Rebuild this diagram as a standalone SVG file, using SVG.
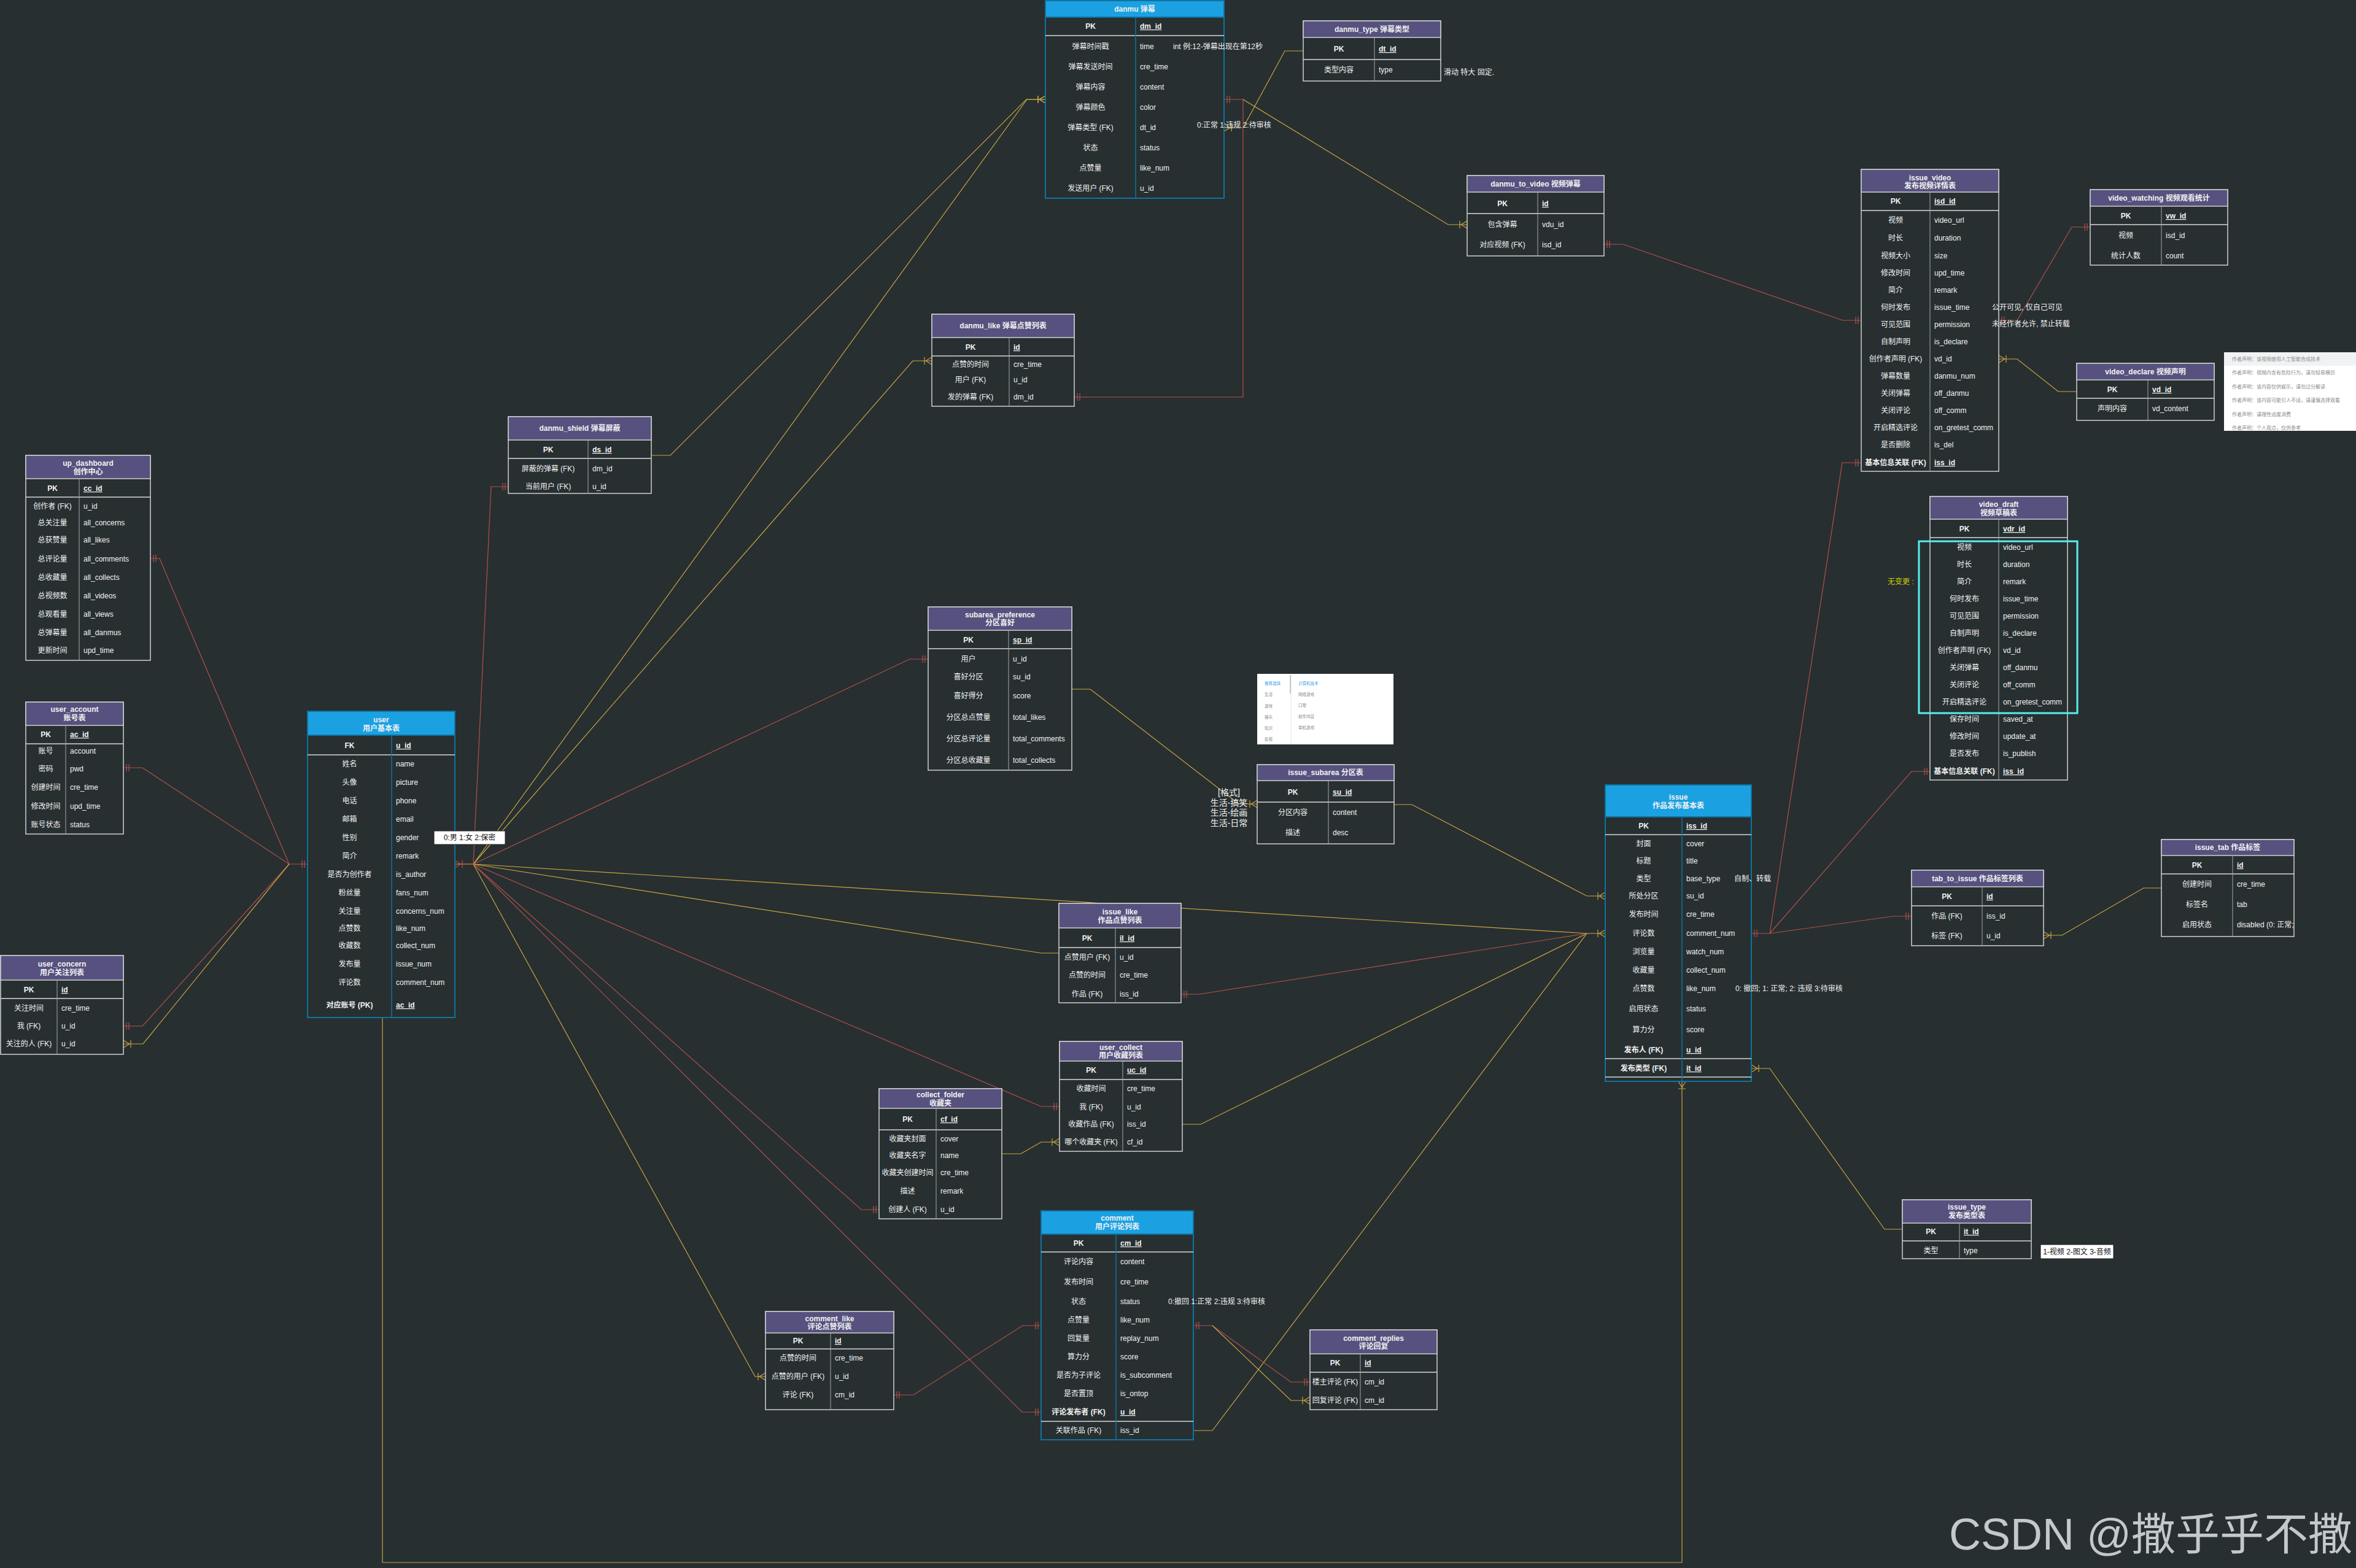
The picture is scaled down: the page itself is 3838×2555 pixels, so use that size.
<svg xmlns="http://www.w3.org/2000/svg" width="3838" height="2555" viewBox="0 0 3838 2555">
<style>
.bg{fill:#272f31}
.body{fill:#272f31;stroke:#cfcfcf;stroke-width:1.5}
.bodyb{fill:#272f31;stroke:#10739e;stroke-width:2}
.hp{fill:#56517e;stroke:#cfcfcf;stroke-width:1.5}
.hb{fill:#1ba1e2;stroke:#10739e;stroke-width:2}
.sep{stroke:#d8d8d8;stroke-width:1.5}
.cd{stroke:#a8a8a8;stroke-width:1}
.cdb{stroke:#10739e;stroke-width:1.5}
text{font-family:"Liberation Sans","Noto Sans CJK SC",sans-serif;font-size:12px;fill:#f2f2f2}
.c{text-anchor:middle}
.b{font-weight:bold}
.u{text-decoration:underline}
.h{font-weight:bold;text-anchor:middle}
.rl{fill:none;stroke:#b4504a;stroke-width:1.2}
.yl{fill:none;stroke:#c9a540;stroke-width:1.2}
.note{fill:#ffffff;stroke:#222;stroke-width:1}
.nt{fill:#111;text-anchor:middle}
.ann{fill:#f2f2f2}
.g8{font-size:8px;fill:#8a8a8a}
.s7{font-size:6.5px;fill:#8a8a8a}
.s7b{font-size:6.5px;fill:#3aa0e8}
</style>
<defs>
<marker id="r2" markerUnits="userSpaceOnUse" orient="auto-start-reverse" markerWidth="20" markerHeight="20" refX="0" refY="0" style="overflow:visible"><path d="M-5,-6V6M-9,-6V6" fill="none" stroke="#b4504a" stroke-width="1.2"/></marker>
<marker id="ym" markerUnits="userSpaceOnUse" orient="auto-start-reverse" markerWidth="20" markerHeight="20" refX="0" refY="0" style="overflow:visible"><path d="M0,-6L-10,0L0,6M-12,-6V6" fill="none" stroke="#c9a540" stroke-width="1.2"/></marker>
<marker id="rm" markerUnits="userSpaceOnUse" orient="auto-start-reverse" markerWidth="20" markerHeight="20" refX="0" refY="0" style="overflow:visible"><path d="M0,-6L-10,0L0,6M-12,-6V6" fill="none" stroke="#b4504a" stroke-width="1.2"/></marker>
</defs>
<rect class="bg" x="0" y="0" width="3838" height="2555"/>

<g id="connectors">
<path class="yl" d="M2123,83H2093L2025,208H1994" marker-end="url(#ym)"/>
<path class="rl" d="M1994,162H2025V647H1750" marker-start="url(#r2)" marker-end="url(#r2)"/>
<path class="yl" d="M2025,162L2359,366H2390" marker-end="url(#ym)"/>
<path class="yl" d="M1061,742H1092L1672,162H1703" marker-end="url(#ym)"/>
<path class="yl" d="M741,1408H771L1673,162H1703" marker-end="url(#ym)"/>
<path class="yl" d="M771,1408L1487,588H1518" marker-end="url(#ym)"/>
<path class="rl" d="M771,1408L800,793H828" marker-end="url(#r2)"/>
<path class="rl" d="M771,1408L1482,1074H1512" marker-end="url(#r2)"/>
<path class="yl" d="M771,1408L1696,1553H1725"/>
<path class="rl" d="M771,1408L1696,1803H1726" marker-end="url(#r2)"/>
<path class="yl" d="M771,1408L2585,1521H2615" marker-end="url(#ym)"/>
<path class="rl" d="M771,1408L1665,2301H1696" marker-end="url(#r2)"/>
<path class="rl" d="M771,1408L1403,1971H1432" marker-end="url(#r2)"/>
<path class="yl" d="M771,1408L1230,2243H1247" marker-end="url(#ym)"/>
<path class="rl" d="M771,1408H741" marker-end="url(#rm)"/>
<path class="rl" d="M201,1251H232L471,1408H501" marker-start="url(#r2)" marker-end="url(#r2)"/>
<path class="rl" d="M245,910H260L471,1408" marker-start="url(#r2)"/>
<path class="rl" d="M201,1672H232L471,1408" marker-start="url(#r2)"/>
<path class="yl" d="M201,1701H233L471,1408" marker-start="url(#ym)"/>
<path class="yl" d="M623,1658V2546H2740V1762" marker-end="url(#ym)"/>
<path class="rl" d="M2613,398H2644L3002,522H3032" marker-start="url(#r2)" marker-end="url(#r2)"/>
<path class="rl" d="M3256,522H3286L3375,370H3405" marker-start="url(#r2)" marker-end="url(#r2)"/>
<path class="yl" d="M3256,585H3286L3353,638H3383" marker-start="url(#ym)"/>
<path class="rl" d="M2853,1521H2883L3001,754H3032" marker-start="url(#r2)" marker-end="url(#r2)"/>
<path class="rl" d="M2883,1521L3114,1257H3144" marker-end="url(#r2)"/>
<path class="rl" d="M2883,1521L3084,1493H3114" marker-end="url(#r2)"/>
<path class="yl" d="M2853,1741H2883L3070,2003H3099" marker-start="url(#ym)"/>
<path class="yl" d="M3521,1447H3492L3359,1524H3329" marker-end="url(#ym)"/>
<path class="yl" d="M2271,1311H2300L2585,1460H2615" marker-end="url(#ym)"/>
<path class="yl" d="M1746,1123H1776L2018,1310H2048" marker-end="url(#ym)"/>
<path class="rl" d="M1924,1620H1954L2585,1521" marker-start="url(#r2)"/>
<path class="yl" d="M1926,1832H1956L2585,1521"/>
<path class="yl" d="M1944,2331H1975L2585,1521"/>
<path class="yl" d="M1632,1880H1663L1696,1861H1726" marker-end="url(#ym)"/>
<path class="rl" d="M1696,2160H1666L1488,2273H1456" marker-start="url(#r2)" marker-end="url(#r2)"/>
<path class="rl" d="M1944,2160H1975L2103,2252H2134" marker-start="url(#r2)" marker-end="url(#r2)"/>
<path class="yl" d="M1975,2160L2103,2282H2134" marker-end="url(#ym)"/>
</g>

<g id="danmu">
<rect class="bodyb" x="1703" y="1" width="291" height="322"/>
<rect class="hb" x="1703" y="1" width="291" height="27"/>
<line class="sep" x1="1703" y1="58" x2="1994" y2="58"/>
<line class="cdb" x1="1850" y1="28" x2="1850" y2="323"/>
<text class="h" x="1848.5" y="19">danmu 弹幕</text>
<text class="c b" x="1776.5" y="47">PK</text><text class="b u" x="1857" y="47">dm_id</text>
<text class="c" x="1776.5" y="80">弹幕时间戳</text><text x="1857" y="80">time</text>
<text class="c" x="1776.5" y="113">弹幕发送时间</text><text x="1857" y="113">cre_time</text>
<text class="c" x="1776.5" y="146">弹幕内容</text><text x="1857" y="146">content</text>
<text class="c" x="1776.5" y="179">弹幕颜色</text><text x="1857" y="179">color</text>
<text class="c" x="1776.5" y="212">弹幕类型 (FK)</text><text x="1857" y="212">dt_id</text>
<text class="c" x="1776.5" y="245">状态</text><text x="1857" y="245">status</text>
<text class="c" x="1776.5" y="278">点赞量</text><text x="1857" y="278">like_num</text>
<text class="c" x="1776.5" y="311">发送用户 (FK)</text><text x="1857" y="311">u_id</text>
<text class="ann" x="1911" y="80">int 例:12-弹幕出现在第12秒</text>
<text class="ann" x="1950" y="208">0:正常 1:违规 2:待审核</text>
</g>

<g id="danmu_type">
<rect class="body" x="2123" y="34" width="224" height="98"/>
<rect class="hp" x="2123" y="34" width="224" height="27"/>
<line class="sep" x1="2123" y1="97" x2="2347" y2="97"/>
<line class="cd" x1="2239" y1="61" x2="2239" y2="132"/>
<text class="h" x="2235" y="52">danmu_type 弹幕类型</text>
<text class="c b" x="2181" y="84">PK</text><text class="b u" x="2246" y="84">dt_id</text>
<text class="c" x="2181" y="118">类型内容</text><text x="2246" y="118">type</text>
<text class="ann" x="2352" y="122">滑动 特大 固定.</text>
</g>

<g id="danmu_to_video">
<rect class="body" x="2390" y="286" width="223" height="131"/>
<rect class="hp" x="2390" y="286" width="223" height="27"/>
<line class="sep" x1="2390" y1="348" x2="2613" y2="348"/>
<line class="cd" x1="2505" y1="313" x2="2505" y2="417"/>
<text class="h" x="2501.5" y="304">danmu_to_video 视频弹幕</text>
<text class="c b" x="2447.5" y="336">PK</text><text class="b u" x="2512" y="336">id</text>
<text class="c" x="2447.5" y="370">包含弹幕</text><text x="2512" y="370">vdu_id</text>
<text class="c" x="2447.5" y="403">对应视频 (FK)</text><text x="2512" y="403">isd_id</text>
</g>

<g id="issue_video">
<rect class="body" x="3032" y="276" width="224" height="492"/>
<rect class="hp" x="3032" y="276" width="224" height="37"/>
<line class="sep" x1="3032" y1="343" x2="3256" y2="343"/>
<line class="cd" x1="3144" y1="313" x2="3144" y2="768"/>
<text class="h" x="3144" y="293.5">issue_video</text>
<text class="h" x="3144" y="307">发布视频详情表</text>
<text class="c b" x="3088" y="332">PK</text><text class="b u" x="3151" y="332">isd_id</text>
<text class="c" x="3088" y="363">视频</text><text x="3151" y="363">video_url</text>
<text class="c" x="3088" y="392">时长</text><text x="3151" y="392">duration</text>
<text class="c" x="3088" y="421">视频大小</text><text x="3151" y="421">size</text>
<text class="c" x="3088" y="449">修改时间</text><text x="3151" y="449">upd_time</text>
<text class="c" x="3088" y="477">简介</text><text x="3151" y="477">remark</text>
<text class="c" x="3088" y="505">何时发布</text><text x="3151" y="505">issue_time</text>
<text class="c" x="3088" y="533">可见范围</text><text x="3151" y="533">permission</text>
<text class="c" x="3088" y="561">自制声明</text><text x="3151" y="561">is_declare</text>
<text class="c" x="3088" y="589">创作者声明 (FK)</text><text x="3151" y="589">vd_id</text>
<text class="c" x="3088" y="617">弹幕数量</text><text x="3151" y="617">danmu_num</text>
<text class="c" x="3088" y="645">关闭弹幕</text><text x="3151" y="645">off_danmu</text>
<text class="c" x="3088" y="673">关闭评论</text><text x="3151" y="673">off_comm</text>
<text class="c" x="3088" y="701">开启精选评论</text><text x="3151" y="701">on_gretest_comm</text>
<text class="c" x="3088" y="729">是否删除</text><text x="3151" y="729">is_del</text>
<text class="c b" x="3088" y="758">基本信息关联 (FK)</text><text class="b u" x="3151" y="758">iss_id</text>
<text class="ann" x="3245" y="505">公开可见, 仅自己可见</text>
<text class="ann" x="3245" y="532">未经作者允许, 禁止转载</text>
</g>

<g id="video_watching">
<rect class="body" x="3405" y="309" width="224" height="123"/>
<rect class="hp" x="3405" y="309" width="224" height="27"/>
<line class="sep" x1="3405" y1="366" x2="3629" y2="366"/>
<line class="cd" x1="3521" y1="336" x2="3521" y2="432"/>
<text class="h" x="3517" y="327">video_watching 视频观看统计</text>
<text class="c b" x="3463" y="356">PK</text><text class="b u" x="3528" y="356">vw_id</text>
<text class="c" x="3463" y="388">视频</text><text x="3528" y="388">isd_id</text>
<text class="c" x="3463" y="421">统计人数</text><text x="3528" y="421">count</text>
</g>

<g id="video_declare">
<rect class="body" x="3383" y="592" width="224" height="93"/>
<rect class="hp" x="3383" y="592" width="224" height="27"/>
<line class="sep" x1="3383" y1="649" x2="3607" y2="649"/>
<line class="cd" x1="3499" y1="619" x2="3499" y2="685"/>
<text class="h" x="3495" y="610">video_declare 视频声明</text>
<text class="c b" x="3441" y="639">PK</text><text class="b u" x="3506" y="639">vd_id</text>
<text class="c" x="3441" y="670">声明内容</text><text x="3506" y="670">vd_content</text>
</g>

<g id="declare_screenshot">
<rect x="3623" y="574" width="215" height="128" fill="#ffffff"/>
<rect x="3623" y="574" width="215" height="22" fill="#f1f2f3"/>
<text class="g8" x="3636" y="588">作者声明：该视频使用人工智能合成技术</text>
<text class="g8" x="3636" y="610">作者声明：视频内含有危险行为，请勿轻易模仿</text>
<text class="g8" x="3636" y="633">作者声明：该内容仅供娱乐，请勿过分解读</text>
<text class="g8" x="3636" y="655">作者声明：该内容可能引人不适，请谨慎选择观看</text>
<text class="g8" x="3636" y="678">作者声明：请理性适度消费</text>
<text class="g8" x="3636" y="700">作者声明：个人观点，仅供参考</text>
</g>

<g id="video_draft">
<rect class="body" x="3144" y="809" width="224" height="462"/>
<rect class="hp" x="3144" y="809" width="224" height="37"/>
<line class="sep" x1="3144" y1="876" x2="3368" y2="876"/>
<line class="cd" x1="3256" y1="846" x2="3256" y2="1271"/>
<text class="h" x="3256" y="826">video_draft</text>
<text class="h" x="3256" y="840">视频草稿表</text>
<text class="c b" x="3200" y="866">PK</text><text class="b u" x="3263" y="866">vdr_id</text>
<text class="c" x="3200" y="896">视频</text><text x="3263" y="896">video_url</text>
<text class="c" x="3200" y="924">时长</text><text x="3263" y="924">duration</text>
<text class="c" x="3200" y="952">简介</text><text x="3263" y="952">remark</text>
<text class="c" x="3200" y="980">何时发布</text><text x="3263" y="980">issue_time</text>
<text class="c" x="3200" y="1008">可见范围</text><text x="3263" y="1008">permission</text>
<text class="c" x="3200" y="1036">自制声明</text><text x="3263" y="1036">is_declare</text>
<text class="c" x="3200" y="1064">创作者声明 (FK)</text><text x="3263" y="1064">vd_id</text>
<text class="c" x="3200" y="1092">关闭弹幕</text><text x="3263" y="1092">off_danmu</text>
<text class="c" x="3200" y="1120">关闭评论</text><text x="3263" y="1120">off_comm</text>
<text class="c" x="3200" y="1148">开启精选评论</text><text x="3263" y="1148">on_gretest_comm</text>
<text class="c" x="3200" y="1176">保存时间</text><text x="3263" y="1176">saved_at</text>
<text class="c" x="3200" y="1204">修改时间</text><text x="3263" y="1204">update_at</text>
<text class="c" x="3200" y="1232">是否发布</text><text x="3263" y="1232">is_publish</text>
<text class="c b" x="3200" y="1261">基本信息关联 (FK)</text><text class="b u" x="3263" y="1261">iss_id</text>
<rect x="3126" y="882" width="258" height="280" fill="none" stroke="#55f0f0" stroke-width="3"/>
<text x="3075" y="952" style="fill:#cccc00">无变更 :</text>
</g>

<g id="danmu_like">
<rect class="body" x="1518" y="512" width="232" height="150"/>
<rect class="hp" x="1518" y="512" width="232" height="38"/>
<line class="sep" x1="1518" y1="580" x2="1750" y2="580"/>
<line class="cd" x1="1644" y1="550" x2="1644" y2="662"/>
<text class="h" x="1634" y="535">danmu_like 弹幕点赞列表</text>
<text class="c b" x="1581" y="570">PK</text><text class="b u" x="1651" y="570">id</text>
<text class="c" x="1581" y="598">点赞的时间</text><text x="1651" y="598">cre_time</text>
<text class="c" x="1581" y="623">用户 (FK)</text><text x="1651" y="623">u_id</text>
<text class="c" x="1581" y="651">发的弹幕 (FK)</text><text x="1651" y="651">dm_id</text>
</g>

<g id="danmu_shield">
<rect class="body" x="828" y="679" width="233" height="125"/>
<rect class="hp" x="828" y="679" width="233" height="38"/>
<line class="sep" x1="828" y1="747" x2="1061" y2="747"/>
<line class="cd" x1="958" y1="717" x2="958" y2="804"/>
<text class="h" x="944.5" y="702">danmu_shield 弹幕屏蔽</text>
<text class="c b" x="893" y="737">PK</text><text class="b u" x="965" y="737">ds_id</text>
<text class="c" x="893" y="768">屏蔽的弹幕 (FK)</text><text x="965" y="768">dm_id</text>
<text class="c" x="893" y="797">当前用户 (FK)</text><text x="965" y="797">u_id</text>
</g>

<g id="up_dashboard">
<rect class="body" x="42" y="742" width="203" height="334"/>
<rect class="hp" x="42" y="742" width="203" height="38"/>
<line class="sep" x1="42" y1="810" x2="245" y2="810"/>
<line class="cd" x1="129" y1="780" x2="129" y2="1076"/>
<text class="h" x="143.5" y="758.5">up_dashboard</text>
<text class="h" x="143.5" y="772.5">创作中心</text>
<text class="c b" x="85.5" y="800">PK</text><text class="b u" x="136" y="800">cc_id</text>
<text class="c" x="85.5" y="829">创作者 (FK)</text><text x="136" y="829">u_id</text>
<text class="c" x="85.5" y="856">总关注量</text><text x="136" y="856">all_concerns</text>
<text class="c" x="85.5" y="884">总获赞量</text><text x="136" y="884">all_likes</text>
<text class="c" x="85.5" y="915">总评论量</text><text x="136" y="915">all_comments</text>
<text class="c" x="85.5" y="945">总收藏量</text><text x="136" y="945">all_collects</text>
<text class="c" x="85.5" y="975">总视频数</text><text x="136" y="975">all_videos</text>
<text class="c" x="85.5" y="1005">总观看量</text><text x="136" y="1005">all_views</text>
<text class="c" x="85.5" y="1035">总弹幕量</text><text x="136" y="1035">all_danmus</text>
<text class="c" x="85.5" y="1064">更新时间</text><text x="136" y="1064">upd_time</text>
</g>

<g id="user_account">
<rect class="body" x="42" y="1144" width="159" height="215"/>
<rect class="hp" x="42" y="1144" width="159" height="38"/>
<line class="sep" x1="42" y1="1212" x2="201" y2="1212"/>
<line class="cd" x1="107" y1="1182" x2="107" y2="1359"/>
<text class="h" x="121.5" y="1160">user_account</text>
<text class="h" x="121.5" y="1174">账号表</text>
<text class="c b" x="74.5" y="1201">PK</text><text class="b u" x="114" y="1201">ac_id</text>
<text class="c" x="74.5" y="1228">账号</text><text x="114" y="1228">account</text>
<text class="c" x="74.5" y="1257">密码</text><text x="114" y="1257">pwd</text>
<text class="c" x="74.5" y="1287">创建时间</text><text x="114" y="1287">cre_time</text>
<text class="c" x="74.5" y="1318">修改时间</text><text x="114" y="1318">upd_time</text>
<text class="c" x="74.5" y="1348">账号状态</text><text x="114" y="1348">status</text>
</g>

<g id="user_concern">
<rect class="body" x="1" y="1557" width="200" height="161"/>
<rect class="hp" x="1" y="1557" width="200" height="40"/>
<line class="sep" x1="1" y1="1627" x2="201" y2="1627"/>
<line class="cd" x1="93" y1="1597" x2="93" y2="1718"/>
<text class="h" x="101" y="1575">user_concern</text>
<text class="h" x="101" y="1588.5">用户关注列表</text>
<text class="c b" x="47" y="1617">PK</text><text class="b u" x="100" y="1617">id</text>
<text class="c" x="47" y="1647">关注时间</text><text x="100" y="1647">cre_time</text>
<text class="c" x="47" y="1676">我 (FK)</text><text x="100" y="1676">u_id</text>
<text class="c" x="47" y="1705">关注的人 (FK)</text><text x="100" y="1705">u_id</text>
</g>

<g id="user">
<rect class="bodyb" x="501" y="1159" width="240" height="499"/>
<rect class="hb" x="501" y="1159" width="240" height="39"/>
<line class="sep" x1="501" y1="1230" x2="741" y2="1230"/>
<line class="cdb" x1="638" y1="1198" x2="638" y2="1658"/>
<text class="h" x="621" y="1177">user</text>
<text class="h" x="621" y="1190.5">用户基本表</text>
<text class="c b" x="569.5" y="1219">FK</text><text class="b u" x="645" y="1219">u_id</text>
<text class="c" x="569.5" y="1249">姓名</text><text x="645" y="1249">name</text>
<text class="c" x="569.5" y="1279">头像</text><text x="645" y="1279">picture</text>
<text class="c" x="569.5" y="1309">电话</text><text x="645" y="1309">phone</text>
<text class="c" x="569.5" y="1339">邮箱</text><text x="645" y="1339">email</text>
<text class="c" x="569.5" y="1369">性别</text><text x="645" y="1369">gender</text>
<text class="c" x="569.5" y="1399">简介</text><text x="645" y="1399">remark</text>
<text class="c" x="569.5" y="1429">是否为创作者</text><text x="645" y="1429">is_author</text>
<text class="c" x="569.5" y="1459">粉丝量</text><text x="645" y="1459">fans_num</text>
<text class="c" x="569.5" y="1489">关注量</text><text x="645" y="1489">concerns_num</text>
<text class="c" x="569.5" y="1517">点赞数</text><text x="645" y="1517">like_num</text>
<text class="c" x="569.5" y="1545">收藏数</text><text x="645" y="1545">collect_num</text>
<text class="c" x="569.5" y="1575">发布量</text><text x="645" y="1575">issue_num</text>
<text class="c" x="569.5" y="1605">评论数</text><text x="645" y="1605">comment_num</text>
<text class="c b" x="569.5" y="1642">对应账号 (PK)</text><text class="b u" x="645" y="1642">ac_id</text>
<rect class="note" x="707" y="1354" width="116" height="22"/>
<text class="nt" x="765" y="1369">0:男 1:女 2:保密</text>
</g>

<g id="subarea_preference">
<rect class="body" x="1512" y="989" width="234" height="266"/>
<rect class="hp" x="1512" y="989" width="234" height="38"/>
<line class="sep" x1="1512" y1="1057" x2="1746" y2="1057"/>
<line class="cd" x1="1643" y1="1027" x2="1643" y2="1255"/>
<text class="h" x="1629" y="1006">subarea_preference</text>
<text class="h" x="1629" y="1019">分区喜好</text>
<text class="c b" x="1577.5" y="1047">PK</text><text class="b u" x="1650" y="1047">sp_id</text>
<text class="c" x="1577.5" y="1078">用户</text><text x="1650" y="1078">u_id</text>
<text class="c" x="1577.5" y="1107">喜好分区</text><text x="1650" y="1107">su_id</text>
<text class="c" x="1577.5" y="1138">喜好得分</text><text x="1650" y="1138">score</text>
<text class="c" x="1577.5" y="1173">分区总点赞量</text><text x="1650" y="1173">total_likes</text>
<text class="c" x="1577.5" y="1208">分区总评论量</text><text x="1650" y="1208">total_comments</text>
<text class="c" x="1577.5" y="1243">分区总收藏量</text><text x="1650" y="1243">total_collects</text>
</g>

<g id="subarea_screenshot">
<rect x="2048" y="1098" width="222" height="115" fill="#ffffff"/>
<line x1="2103" y1="1100" x2="2103" y2="1213" stroke="#e4e4e4" stroke-width="1"/>
<line x1="2102" y1="1100" x2="2102" y2="1130" stroke="#c8c8c8" stroke-width="2"/>
<text class="s7b" x="2060" y="1116">推荐选择</text>
<text class="s7" x="2060" y="1134">生活</text>
<text class="s7" x="2060" y="1153">游戏</text>
<text class="s7" x="2060" y="1171">娱乐</text>
<text class="s7" x="2060" y="1189">知识</text>
<text class="s7" x="2060" y="1207">影视</text>
<text class="s7b" x="2115" y="1116">计算机技术</text>
<text class="s7" x="2115" y="1134">网络游戏</text>
<text class="s7" x="2115" y="1152">口琴</text>
<text class="s7" x="2115" y="1170">软件内容</text>
<text class="s7" x="2115" y="1188">单机游戏</text>
</g>

<g id="issue_subarea">
<rect class="body" x="2048" y="1246" width="223" height="129"/>
<rect class="hp" x="2048" y="1246" width="223" height="26"/>
<line class="sep" x1="2048" y1="1307" x2="2271" y2="1307"/>
<line class="cd" x1="2164" y1="1272" x2="2164" y2="1375"/>
<text class="h" x="2159.5" y="1263">issue_subarea 分区表</text>
<text class="c b" x="2106" y="1295">PK</text><text class="b u" x="2171" y="1295">su_id</text>
<text class="c" x="2106" y="1328">分区内容</text><text x="2171" y="1328">content</text>
<text class="c" x="2106" y="1361">描述</text><text x="2171" y="1361">desc</text>
<text class="ann c" x="2002" y="1296" style="font-size:14px">[格式]</text>
<text class="ann c" x="2002" y="1313" style="font-size:14px">生活-搞笑</text>
<text class="ann c" x="2002" y="1329" style="font-size:14px">生活-绘画</text>
<text class="ann c" x="2002" y="1346" style="font-size:14px">生活-日常</text>
</g>

<g id="issue">
<rect class="bodyb" x="2615" y="1279" width="238" height="483"/>
<rect class="hb" x="2615" y="1279" width="238" height="52"/>
<line class="sep" x1="2615" y1="1360" x2="2853" y2="1360"/>
<line class="sep" x1="2615" y1="1725" x2="2853" y2="1725"/>
<line class="sep" x1="2615" y1="1755" x2="2853" y2="1755"/>
<line class="cdb" x1="2740" y1="1331" x2="2740" y2="1762"/>
<text class="h" x="2734" y="1303">issue</text>
<text class="h" x="2734" y="1316.5">作品发布基本表</text>
<text class="c b" x="2677.5" y="1350">PK</text><text class="b u" x="2747" y="1350">iss_id</text>
<text class="c" x="2677.5" y="1379">封面</text><text x="2747" y="1379">cover</text>
<text class="c" x="2677.5" y="1407">标题</text><text x="2747" y="1407">title</text>
<text class="c" x="2677.5" y="1436">类型</text><text x="2747" y="1436">base_type</text>
<text class="c" x="2677.5" y="1464">所处分区</text><text x="2747" y="1464">su_id</text>
<text class="c" x="2677.5" y="1494">发布时间</text><text x="2747" y="1494">cre_time</text>
<text class="c" x="2677.5" y="1525">评论数</text><text x="2747" y="1525">comment_num</text>
<text class="c" x="2677.5" y="1555">浏览量</text><text x="2747" y="1555">watch_num</text>
<text class="c" x="2677.5" y="1585">收藏量</text><text x="2747" y="1585">collect_num</text>
<text class="c" x="2677.5" y="1615">点赞数</text><text x="2747" y="1615">like_num</text>
<text class="c" x="2677.5" y="1648">启用状态</text><text x="2747" y="1648">status</text>
<text class="c" x="2677.5" y="1682">算力分</text><text x="2747" y="1682">score</text>
<text class="c b" x="2677.5" y="1715">发布人 (FK)</text><text class="b u" x="2747" y="1715">u_id</text>
<text class="c b" x="2677.5" y="1745">发布类型 (FK)</text><text class="b u" x="2747" y="1745">it_id</text>
<text class="ann" x="2825" y="1436">自制、转载</text>
<text class="ann" x="2827" y="1615">0: 撤回; 1: 正常; 2: 违规 3:待审核</text>
</g>

<g id="issue_like">
<rect class="body" x="1725" y="1472" width="199" height="162"/>
<rect class="hp" x="1725" y="1472" width="199" height="40"/>
<line class="sep" x1="1725" y1="1544" x2="1924" y2="1544"/>
<line class="cd" x1="1817" y1="1512" x2="1817" y2="1634"/>
<text class="h" x="1824.5" y="1490">issue_like</text>
<text class="h" x="1824.5" y="1504">作品点赞列表</text>
<text class="c b" x="1771" y="1533">PK</text><text class="b u" x="1824" y="1533">il_id</text>
<text class="c" x="1771" y="1564">点赞用户 (FK)</text><text x="1824" y="1564">u_id</text>
<text class="c" x="1771" y="1593">点赞的时间</text><text x="1824" y="1593">cre_time</text>
<text class="c" x="1771" y="1624">作品 (FK)</text><text x="1824" y="1624">iss_id</text>
</g>

<g id="user_collect">
<rect class="body" x="1726" y="1697" width="200" height="179"/>
<rect class="hp" x="1726" y="1697" width="200" height="32"/>
<line class="sep" x1="1726" y1="1759" x2="1926" y2="1759"/>
<line class="cd" x1="1829" y1="1729" x2="1829" y2="1876"/>
<text class="h" x="1826" y="1711">user_collect</text>
<text class="h" x="1826" y="1724">用户收藏列表</text>
<text class="c b" x="1777.5" y="1748">PK</text><text class="b u" x="1836" y="1748">uc_id</text>
<text class="c" x="1777.5" y="1778">收藏时间</text><text x="1836" y="1778">cre_time</text>
<text class="c" x="1777.5" y="1808">我 (FK)</text><text x="1836" y="1808">u_id</text>
<text class="c" x="1777.5" y="1836">收藏作品 (FK)</text><text x="1836" y="1836">iss_id</text>
<text class="c" x="1777.5" y="1865">哪个收藏夹 (FK)</text><text x="1836" y="1865">cf_id</text>
</g>

<g id="collect_folder">
<rect class="body" x="1432" y="1774" width="200" height="212"/>
<rect class="hp" x="1432" y="1774" width="200" height="32"/>
<line class="sep" x1="1432" y1="1841" x2="1632" y2="1841"/>
<line class="cd" x1="1525" y1="1806" x2="1525" y2="1986"/>
<text class="h" x="1532" y="1788">collect_folder</text>
<text class="h" x="1532" y="1801.5">收藏夹</text>
<text class="c b" x="1478.5" y="1828">PK</text><text class="b u" x="1532" y="1828">cf_id</text>
<text class="c" x="1478.5" y="1860">收藏夹封面</text><text x="1532" y="1860">cover</text>
<text class="c" x="1478.5" y="1887">收藏夹名字</text><text x="1532" y="1887">name</text>
<text class="c" x="1478.5" y="1915">收藏夹创建时间</text><text x="1532" y="1915">cre_time</text>
<text class="c" x="1478.5" y="1945">描述</text><text x="1532" y="1945">remark</text>
<text class="c" x="1478.5" y="1975">创建人 (FK)</text><text x="1532" y="1975">u_id</text>
</g>

<g id="comment">
<rect class="bodyb" x="1696" y="1973" width="248" height="373"/>
<rect class="hb" x="1696" y="1973" width="248" height="38"/>
<line class="sep" x1="1696" y1="2040" x2="1944" y2="2040"/>
<line class="sep" x1="1696" y1="2316" x2="1944" y2="2316"/>
<line class="cdb" x1="1818" y1="2011" x2="1818" y2="2346"/>
<text class="h" x="1820" y="1989">comment</text>
<text class="h" x="1820" y="2002.5">用户评论列表</text>
<text class="c b" x="1757" y="2030">PK</text><text class="b u" x="1825" y="2030">cm_id</text>
<text class="c" x="1757" y="2060">评论内容</text><text x="1825" y="2060">content</text>
<text class="c" x="1757" y="2093">发布时间</text><text x="1825" y="2093">cre_time</text>
<text class="c" x="1757" y="2125">状态</text><text x="1825" y="2125">status</text>
<text class="c" x="1757" y="2155">点赞量</text><text x="1825" y="2155">like_num</text>
<text class="c" x="1757" y="2185">回复量</text><text x="1825" y="2185">replay_num</text>
<text class="c" x="1757" y="2215">算力分</text><text x="1825" y="2215">score</text>
<text class="c" x="1757" y="2245">是否为子评论</text><text x="1825" y="2245">is_subcomment</text>
<text class="c" x="1757" y="2275">是否置顶</text><text x="1825" y="2275">is_ontop</text>
<text class="c b" x="1757" y="2305">评论发布者 (FK)</text><text class="b u" x="1825" y="2305">u_id</text>
<text class="c" x="1757" y="2335">关联作品 (FK)</text><text x="1825" y="2335">iss_id</text>
<text class="ann" x="1903" y="2125">0:撤回 1:正常 2:违规 3:待审核</text>
</g>

<g id="comment_like">
<rect class="body" x="1247" y="2137" width="209" height="160"/>
<rect class="hp" x="1247" y="2137" width="209" height="35"/>
<line class="sep" x1="1247" y1="2198" x2="1456" y2="2198"/>
<line class="cd" x1="1353" y1="2172" x2="1353" y2="2297"/>
<text class="h" x="1351.5" y="2152.5">comment_like</text>
<text class="h" x="1351.5" y="2166">评论点赞列表</text>
<text class="c b" x="1300" y="2189">PK</text><text class="b u" x="1360" y="2189">id</text>
<text class="c" x="1300" y="2217">点赞的时间</text><text x="1360" y="2217">cre_time</text>
<text class="c" x="1300" y="2247">点赞的用户 (FK)</text><text x="1360" y="2247">u_id</text>
<text class="c" x="1300" y="2277">评论 (FK)</text><text x="1360" y="2277">cm_id</text>
</g>

<g id="comment_replies">
<rect class="body" x="2134" y="2167" width="207" height="130"/>
<rect class="hp" x="2134" y="2167" width="207" height="39"/>
<line class="sep" x1="2134" y1="2236" x2="2341" y2="2236"/>
<line class="cd" x1="2216" y1="2206" x2="2216" y2="2297"/>
<text class="h" x="2237.5" y="2184.5">comment_replies</text>
<text class="h" x="2237.5" y="2198">评论回复</text>
<text class="c b" x="2175" y="2225">PK</text><text class="b u" x="2223" y="2225">id</text>
<text class="c" x="2175" y="2256">楼主评论 (FK)</text><text x="2223" y="2256">cm_id</text>
<text class="c" x="2175" y="2286">回复评论 (FK)</text><text x="2223" y="2286">cm_id</text>
</g>

<g id="tab_to_issue">
<rect class="body" x="3114" y="1418" width="215" height="123"/>
<rect class="hp" x="3114" y="1418" width="215" height="27"/>
<line class="sep" x1="3114" y1="1476" x2="3329" y2="1476"/>
<line class="cd" x1="3229" y1="1445" x2="3229" y2="1541"/>
<text class="h" x="3221.5" y="1436">tab_to_issue 作品标签列表</text>
<text class="c b" x="3171.5" y="1465">PK</text><text class="b u" x="3236" y="1465">id</text>
<text class="c" x="3171.5" y="1497">作品 (FK)</text><text x="3236" y="1497">iss_id</text>
<text class="c" x="3171.5" y="1529">标签 (FK)</text><text x="3236" y="1529">u_id</text>
</g>

<g id="issue_tab">
<rect class="body" x="3521" y="1368" width="216" height="158"/>
<rect class="hp" x="3521" y="1368" width="216" height="26"/>
<line class="sep" x1="3521" y1="1424" x2="3737" y2="1424"/>
<line class="cd" x1="3637" y1="1394" x2="3637" y2="1526"/>
<text class="h" x="3629" y="1385">issue_tab 作品标签</text>
<text class="c b" x="3579" y="1414">PK</text><text class="b u" x="3644" y="1414">id</text>
<text class="c" x="3579" y="1445">创建时间</text><text x="3644" y="1445">cre_time</text>
<text class="c" x="3579" y="1478">标签名</text><text x="3644" y="1478">tab</text>
<text class="c" x="3579" y="1511">启用状态</text><text x="3644" y="1511">disabled (0: 正常;</text>
</g>

<g id="issue_type">
<rect class="body" x="3099" y="1955" width="210" height="96"/>
<rect class="hp" x="3099" y="1955" width="210" height="38"/>
<line class="sep" x1="3099" y1="2022" x2="3309" y2="2022"/>
<line class="cd" x1="3192" y1="1993" x2="3192" y2="2051"/>
<text class="h" x="3204" y="1971">issue_type</text>
<text class="h" x="3204" y="1984.5">发布类型表</text>
<text class="c b" x="3145.5" y="2011">PK</text><text class="b u" x="3199" y="2011">it_id</text>
<text class="c" x="3145.5" y="2042">类型</text><text x="3199" y="2042">type</text>
<rect class="note" x="3324" y="2028" width="119" height="23"/>
<text class="nt" x="3383.5" y="2044">1-视频 2-图文 3-音频</text>
</g>

<text x="3175" y="2525" style="font-size:72px;fill:#c4c8ca">CSDN @撒乎乎不撒</text>
</svg>
